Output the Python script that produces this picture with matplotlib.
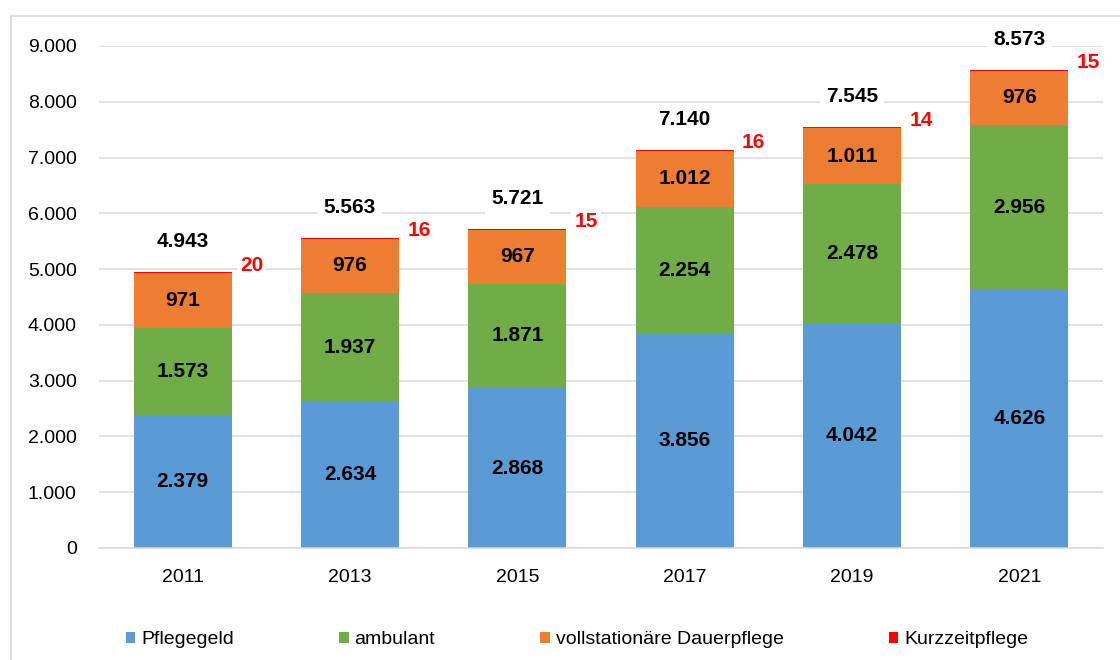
import matplotlib.pyplot as plt
import numpy as np
from matplotlib.lines import Line2D

plt.rcParams['font.family'] = ['Liberation Sans', 'DejaVu Sans']

years = ["2011", "2013", "2015", "2017", "2019", "2021"]
pflegegeld = [2379, 2634, 2868, 3856, 4042, 4626]
ambulant = [1573, 1937, 1871, 2254, 2478, 2956]
vollstationaer = [971, 976, 967, 1012, 1011, 976]
kurzzeit = [20, 16, 15, 16, 14, 15]
totals = [4943, 5563, 5721, 7140, 7545, 8573]

series = [
    ("Pflegegeld", pflegegeld, "#5B9BD5"),
    ("ambulant", ambulant, "#70AD47"),
    ("vollstationäre Dauerpflege", vollstationaer, "#ED7D31"),
    ("Kurzzeitpflege", kurzzeit, "#FF0000"),
]

def fmt(v):
    return f"{v:,}".replace(",", ".")

fig = plt.figure(figsize=(11.2, 6.6), dpi=100)
ax = fig.add_axes([99/1120, 1-548/660, 1004/1120, 502/660])

x = np.arange(len(years))
width = 0.585
bottom = np.zeros(len(years))
for name, vals, col in series:
    vals = np.array(vals)
    ax.bar(x, vals, width, bottom=bottom, color=col, label=name,
           linewidth=0, zorder=2)
    if name != "Kurzzeitpflege":
        for xi, b, v in zip(x, bottom, vals):
            ax.text(xi, b + v/2, fmt(int(v)), ha="center", va="center",
                    fontsize=15, fontweight="bold", color="black", zorder=3)
    bottom += vals

# totals above bars
for xi, t in zip(x, totals):
    ax.annotate(fmt(t), (xi, t), xytext=(0, 22), textcoords="offset points",
                ha="center", va="center", fontsize=15, fontweight="bold",
                bbox=dict(boxstyle="square,pad=0.3", fc="white", ec="none"),
                zorder=4)

# Kurzzeitpflege labels right of bars
for xi, b, k in zip(x, bottom, kurzzeit):
    ax.annotate(str(k), (xi + width/2, b), xytext=(6, 5), textcoords="offset points",
                ha="left", va="center", fontsize=15, fontweight="bold", color="#FF0000",
                bbox=dict(boxstyle="square,pad=0.15", fc="white", ec="none"),
                zorder=4)

ax.set_xlim(-0.5, len(years) - 0.5)
ax.set_ylim(0, 9000)
ax.set_yticks(np.arange(0, 9001, 1000))
ax.set_yticklabels([fmt(v) for v in range(0, 9001, 1000)])
ax.set_xticks(x)
ax.set_xticklabels(years)
ax.tick_params(axis="y", length=0, pad=16, labelsize=14)
ax.tick_params(axis="x", length=0, pad=15, labelsize=14)
ax.grid(axis="y", color="#D9D9D9", linewidth=1.1, zorder=0)
ax.set_axisbelow(True)
for s in ["top", "right", "left"]:
    ax.spines[s].set_visible(False)
ax.spines["bottom"].set_color("#D9D9D9")
ax.spines["bottom"].set_linewidth(1.1)

# outer frame
fig.add_artist(Line2D([10.5/1120, 10.5/1120], [0, 1-15.5/660], color="#D9D9D9", lw=1.2))
fig.add_artist(Line2D([10.5/1120, 1], [1-15.5/660, 1-15.5/660], color="#D9D9D9", lw=1.2))

fig.legend(loc="center", bbox_to_anchor=(577/1120, 1-640/660), ncol=4, frameon=False,
           fontsize=14, handlelength=0.5, handleheight=0.5, handletextpad=0.3,
           columnspacing=5.4)

fig.savefig("out.png", dpi=100)
